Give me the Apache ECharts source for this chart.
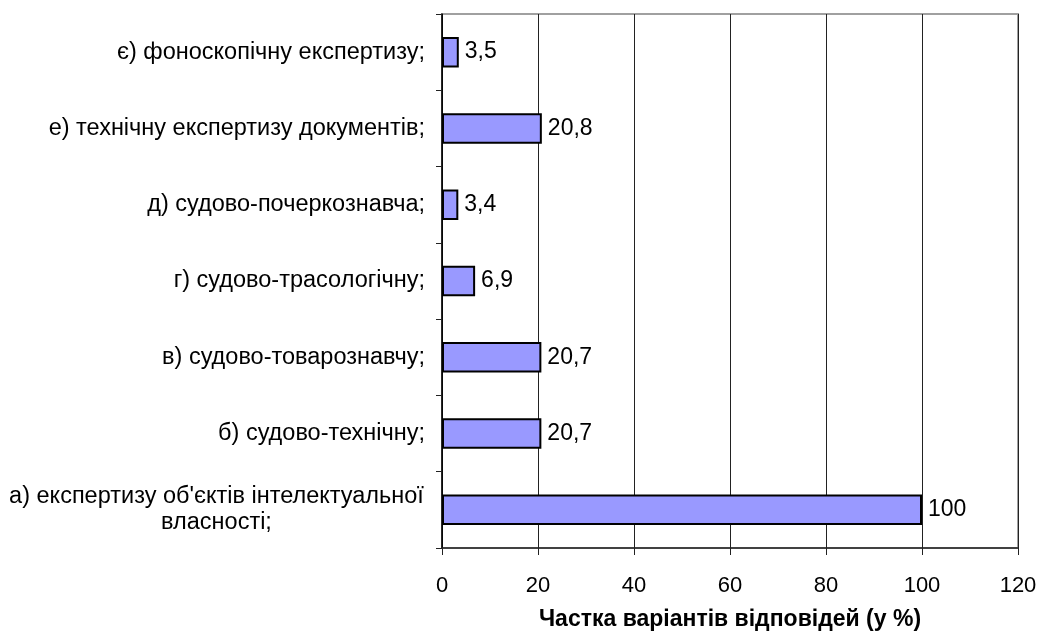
<!DOCTYPE html>
<html>
<head>
<meta charset="utf-8">
<script src="https://cdn.jsdelivr.net/npm/echarts@6/dist/echarts.min.js"></script>
<style>
  html, body { margin: 0; padding: 0; background: #fff; }
  #chart { width: 1044px; height: 635px; }
</style>
</head>
<body>
<div id="chart"></div>
<script>
// bottom to top, as the category axis draws them
const categories = [
  'а) експертизу об\'єктів інтелектуальної\nвласності;',
  'б) судово-технічну;',
  'в) судово-товарознавчу;',
  'г) судово-трасологічну;',
  'д) судово-почеркознавча;',
  'е) технічну експертизу документів;',
  'є) фоноскопічну експертизу;'
]
const shares = [100, 20.7, 20.7, 6.9, 3.4, 20.8, 3.5]
const xTicks = { min: 0, max: 120, interval: 20 }
const xTitle = 'Частка варіантів відповідей (у %)'

const font = '"Liberation Sans", Arial, sans-serif'
const catSize = 23.5

// width of the longest line, so the wrapped label can be centred line by line
const ctx = document.createElement('canvas').getContext('2d')
ctx.font = catSize + 'px ' + font
function blockWidth(s) {
  return Math.max.apply(null, s.split('\n').map(function (l) {
    return Math.ceil(ctx.measureText(l).width) + 2
  }))
}

const rich = {}
categories.forEach(function (c) {
  if (c.indexOf('\n') < 0) return
  rich['m' + blockWidth(c)] = {
    width: blockWidth(c), align: 'center',
    fontSize: catSize, lineHeight: 26, color: '#000', fontFamily: font
  }
})

const chart = echarts.init(document.getElementById('chart'))

chart.setOption({
  animation: false,
  textStyle: { fontFamily: font },
  grid: {
    left: 442,
    right: 26,
    top: 14,
    bottom: 87,
    outerBoundsMode: 'none',
    containLabel: false,
    show: true,
    borderColor: '#a0a0a0',
    borderWidth: 2
  },
  xAxis: {
    type: 'value',
    min: xTicks.min,
    max: xTicks.max,
    interval: xTicks.interval,
    name: xTitle,
    nameLocation: 'middle',
    nameGap: 60,
    nameTextStyle: { fontSize: 23, fontWeight: 'bold', color: '#000', fontFamily: font },
    axisLine: { show: true, onZero: false, lineStyle: { color: '#222', width: 1.5 } },
    axisTick: { show: true, length: 7, lineStyle: { color: '#222' } },
    axisLabel: { fontSize: 22, color: '#000', margin: 27, fontFamily: font },
    splitLine: { show: true, lineStyle: { color: '#222', width: 1 } }
  },
  yAxis: {
    type: 'category',
    data: categories,
    axisLine: { show: true, lineStyle: { color: '#000', width: 1.5 } },
    axisTick: { show: true, length: 6, lineStyle: { color: '#222' } },
    axisLabel: {
      fontSize: catSize,
      color: '#000',
      margin: 17,
      fontFamily: font,
      lineHeight: 26,
      formatter: function (v) {
        if (v.indexOf('\n') < 0) return v
        const key = 'm' + blockWidth(v)
        return v.split('\n').map(function (s) { return '{' + key + '|' + s + '}' }).join('\n')
      },
      rich: rich
    }
  },
  series: [{
    type: 'bar',
    data: shares,
    barWidth: '40%',
    itemStyle: { color: '#9999ff', borderColor: '#000', borderWidth: 2 },
    label: {
      show: true,
      position: 'right',
      distance: 6,
      fontSize: 23,
      color: '#000',
      fontFamily: font,
      formatter: function (p) { return String(p.value).replace('.', ',') }
    }
  }]
})
</script>
</body>
</html>
